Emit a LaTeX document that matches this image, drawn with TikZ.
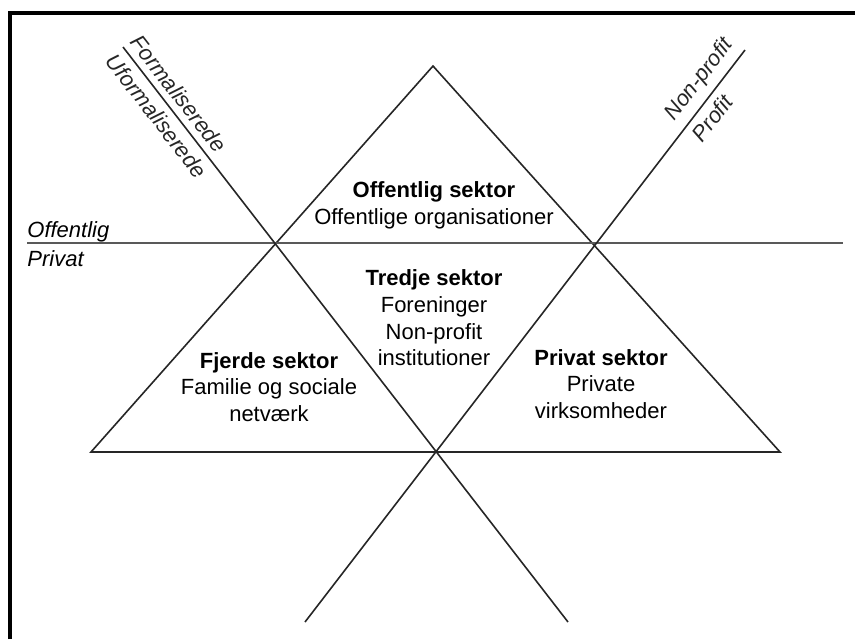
\documentclass[tikz,border=0pt]{standalone}
\usepackage{fontspec}
\setmainfont{Liberation Sans}
\usepackage{xcolor}

\begin{document}
\begin{tikzpicture}[x=0.5pt,y=-0.5pt,
        sektor/.style={align=center,font=\fontsize{11}{13.3}\selectfont},
        akse/.style={font=\fontsize{11}{13}\selectfont\itshape,inner xsep=0pt},
        linje/.style={line width=0.8pt,black!85}]
        \useasboundingbox (0,0) rectangle (855,639);
        % ramme
        \draw[line width=2pt] (10,639) -- (10,13) -- (855,13);
        % punkter
        \coordinate(top) at (433,66);
        \coordinate(vb) at (91,452);
        \coordinate(hb) at (780,452);
        \coordinate(lv) at (27,243);
        \coordinate(lh) at (843,243);
        \coordinate(fa) at (123,47);
        \coordinate(fb) at (568,622);
        \coordinate(na) at (305,622);
        \coordinate(nb) at (745,50);
        % linjer
        \draw[linje] (top)--(vb)--(hb)--cycle;
        \draw[linje,black!65] (lv)--(lh);
        \draw[linje] (fa)-- node[pos=0,sloped,anchor=south west,akse](formal){Formaliserede}
                node[pos=0,sloped,anchor=north west,akse](uformal){Uformaliserede} (fb);
        \draw[linje] (na)-- node[pos=0.861,sloped,anchor=south west,akse](nonprofit){Non-profit}
                node[pos=0.861,sloped,anchor=north west,akse](profit){Profit} (nb);
        % tekster
        \node[akse,anchor=base west](offentlig) at (27,237) {Offentlig};
        \node[akse,anchor=base west](privat) at (27,266) {Privat};
        \node[sektor](offsek) at (434,205) {\textbf{Offentlig sektor}\\Offentlige organisationer};
        \node[sektor](tredje) at (434,318) {\textbf{Tredje sektor}\\Foreninger\\Non-profit\\institutioner};
        \node[sektor](fjerde) at (269,387) {\textbf{Fjerde sektor}\\Familie og sociale\\netværk};
        \node[sektor](privsek) at (601,384) {\textbf{Privat sektor}\\Private\\virksomheder};
        \end{tikzpicture}
\end{document}
